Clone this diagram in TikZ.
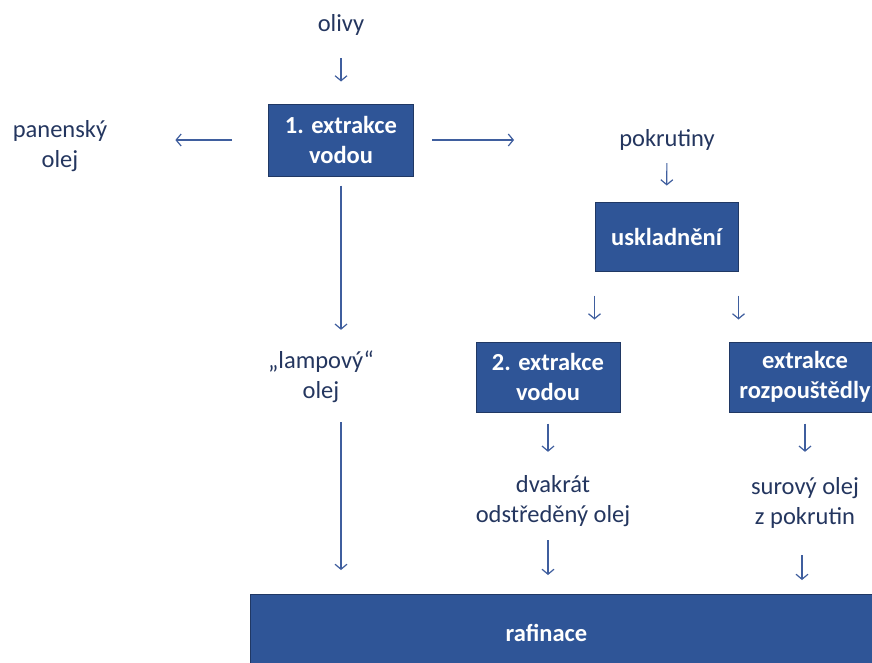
\documentclass[tikz,border=0pt]{standalone}
\usepackage{fontspec}
\setmainfont{Carlito}
\usetikzlibrary{arrows.meta}
\definecolor{boxblue}{HTML}{2F5597}
\definecolor{boxline}{HTML}{203864}
\definecolor{txtblue}{HTML}{24365F}
\definecolor{arrblue}{HTML}{3F5E9E}
\begin{document}
\begin{tikzpicture}[x=1pt,y=-1pt,
  txt/.style={text=txtblue,align=center,inner sep=0pt,font=\fontsize{24.5}{30}\selectfont},
  one/.style={txt,minimum height=30},
  two/.style={txt,minimum height=60},
  box/.style={fill=boxblue,draw=boxline,line width=1pt,text=white,align=center,
    inner sep=0pt,font=\fontsize{24.5}{30}\selectfont\bfseries},
  arr/.style={draw=arrblue,line width=1.2pt,-{Straight Barb[length=5pt,width=12pt]}}]
\useasboundingbox (0,0) rectangle (872,662);
\node[one] (olivy) at (341,25) {olivy};
\node[box,minimum width=145,minimum height=72] (ext1) at (341,140) {1. extrakce\\vodou};
\node[two] (panensky) at (60,146) {panenský\\olej};
\node[one] (pokrutiny) at (667,140) {pokrutiny};
\node[box,minimum width=143,minimum height=69] (sklad) at (666.5,236.5) {uskladnění};
\node[two] (lampovy) at (321,377) {„lampový“\\olej};
\node[box,minimum width=144,minimum height=70] (ext2) at (548,377) {2. extrakce\\vodou};
\node[box,minimum width=152,minimum height=70] (extr) at (805,377) {extrakce\\rozpouštědly};
\node[two] (dvakrat) at (553,501) {dvakrát\\odstředěný olej};
\node[two] (surovy) at (805,503) {surový olej\\z pokrutin};
\node[box,minimum width=630,minimum height=76,anchor=north west] (raf) at (250,594) {\hspace*{-38pt}rafinace};
\draw[arr,shorten <=18pt,shorten >=22pt] (olivy) -- (ext1);
\draw[arr,shorten <=36pt,shorten >=68pt] (ext1.west) -- (ext1.west -| panensky.east);
\draw[arr,shorten <=18pt,shorten >=105pt] (ext1.east) -- (ext1.east -| pokrutiny.west);
\draw[arr,shorten <=8pt,shorten >=16pt] (pokrutiny) -- (sklad);
\draw[arr,shorten <=24pt,shorten >=22pt] (sklad.south west) -- (sklad.south west |- ext2.north);
\draw[arr,shorten <=24pt,shorten >=22pt] (sklad.south east) -- (sklad.south east |- extr.north);
\draw[arr,shorten <=9pt,shorten >=17pt] (ext1.south) -- (ext1.south |- lampovy.north);
\draw[arr,shorten <=15pt,shorten >=24pt] (ext1.south |- lampovy.south) -- (ext1.south |- raf.north);
\draw[arr,shorten <=11pt,shorten >=19pt] (ext2.south) -- (ext2.south |- dvakrat.north);
\draw[arr,shorten <=9pt,shorten >=19pt] (ext2.south |- dvakrat.south) -- (ext2.south |- raf.north);
\draw[arr,shorten <=11pt,shorten >=21pt] (extr.south) -- (surovy.north);
\draw[arr,shorten <=22pt,shorten >=14pt] (surovy.south -| 802,0) -- (raf.north -| 802,0);
\end{tikzpicture}
\end{document}
